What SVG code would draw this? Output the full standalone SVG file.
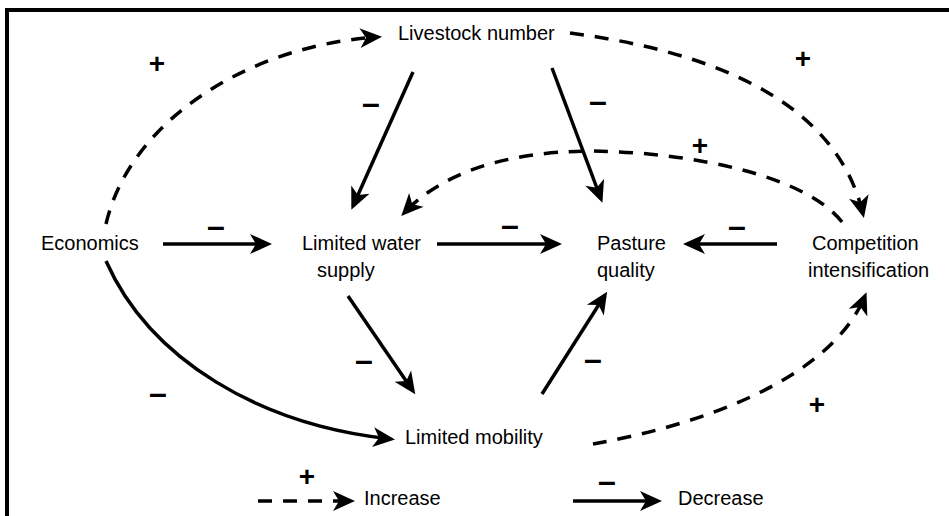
<svg xmlns="http://www.w3.org/2000/svg" width="949" height="516" viewBox="0 0 949 516">
<style>
.lbl{font-family:"Liberation Sans",Arial,sans-serif;font-size:20px;fill:#000}
.sgn{font-family:"Liberation Sans",Arial,sans-serif;font-size:32px;font-weight:bold;fill:#000;text-anchor:middle}
.pl{font-family:"Liberation Sans",Arial,sans-serif;font-size:28px;font-weight:bold;fill:#000;text-anchor:middle}
.solid{fill:none;stroke:#000;stroke-width:3.5;marker-end:url(#ah)}
.dash{fill:none;stroke:#000;stroke-width:3.5;stroke-dasharray:14 11;marker-end:url(#ah)}
</style>
<defs>
<marker id="ah" viewBox="-20 -11 26 22" refX="0" refY="0" markerWidth="26" markerHeight="22" markerUnits="userSpaceOnUse" orient="auto">
<path d="M4,0 L-18,-10 L-12,0 L-18,10 Z" fill="#000"/>
</marker>
</defs>
<rect width="949" height="516" fill="#fff"/>
<path d="M7,516 V10 H949" fill="none" stroke="#000" stroke-width="4"/>
<g id="connectors">
<path class="dash" d="M106,224 C130,120 250,45 378,37"/>
<path class="dash" d="M570,33 C700,50 835,95 863,214"/>
<path class="dash" d="M842,222 C805,175 690,152 590,151 C500,152 440,175 404,213"/>
<path class="solid" d="M106,261 C150,360 260,425 391,439"/>
<path class="dash" d="M593,444 C700,425 830,380 865,296"/>
<path class="solid" d="M163,244 H268"/>
<path class="solid" d="M437,244 H558"/>
<path class="solid" d="M777,244 H687"/>
<path class="solid" d="M413,72 L353,206"/>
<path class="solid" d="M552,68 L601,199"/>
<path class="solid" d="M348,296 L413,391"/>
<path class="solid" d="M542,394 L605,295"/>
<path class="dash" d="M258,501 H351"/>
<path class="solid" d="M573,501 H658"/>
</g>
<g id="signs">
<text class="pl" x="157" y="73">+</text>
<text class="pl" x="803" y="68">+</text>
<text class="pl" x="700" y="155">+</text>
<text class="pl" x="817" y="414">+</text>
<text class="pl" x="307" y="486">+</text>
<text class="sgn" x="216" y="237">–</text>
<text class="sgn" x="510" y="236">–</text>
<text class="sgn" x="737" y="237">–</text>
<text class="sgn" x="371" y="114">–</text>
<text class="sgn" x="598" y="112">–</text>
<text class="sgn" x="364" y="371">–</text>
<text class="sgn" x="593" y="370">–</text>
<text class="sgn" x="158" y="404">–</text>
<text class="sgn" x="607" y="492">–</text>
</g>
<g id="livestock"><text class="lbl" x="398" y="40">Livestock number</text></g>
<g id="economics"><text class="lbl" x="41" y="250">Economics</text></g>
<g id="water"><text class="lbl" x="302" y="250">Limited water</text><text class="lbl" x="317" y="277">supply</text></g>
<g id="pasture"><text class="lbl" x="597" y="250">Pasture</text><text class="lbl" x="597" y="277">quality</text></g>
<g id="competition"><text class="lbl" x="812" y="250">Competition</text><text class="lbl" x="808" y="277">intensification</text></g>
<g id="mobility"><text class="lbl" x="405" y="444">Limited mobility</text></g>
<g id="legend"><text class="lbl" x="364" y="505">Increase</text><text class="lbl" x="678" y="505">Decrease</text></g>
</svg>
